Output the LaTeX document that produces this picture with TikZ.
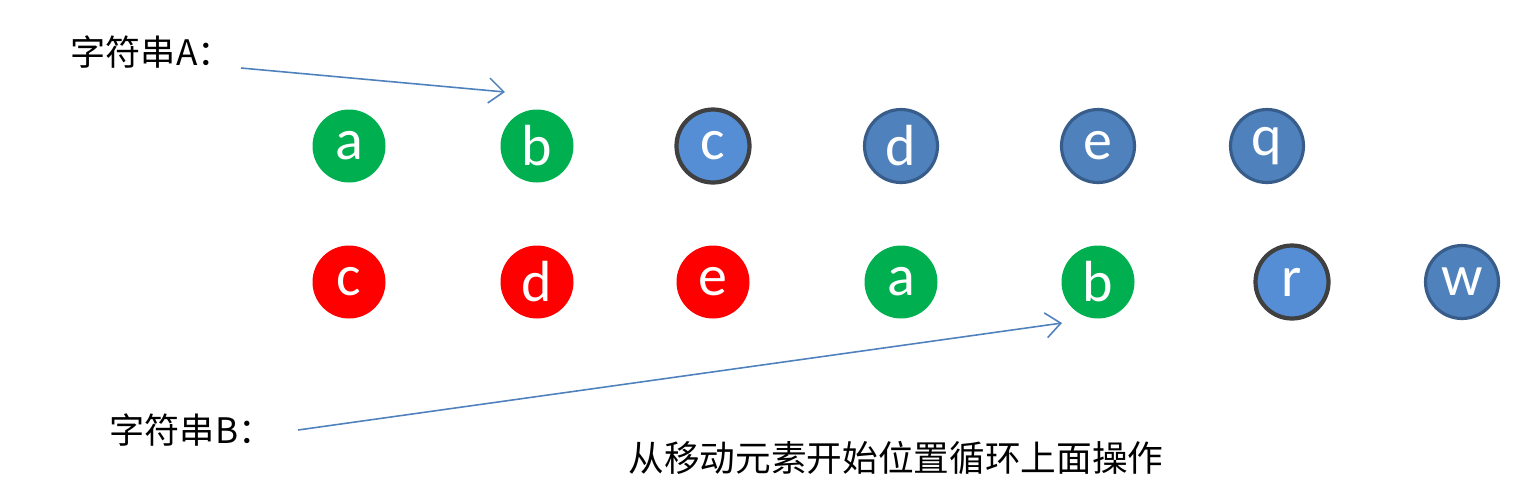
\documentclass[tikz,border=0pt]{standalone}
\usepackage{fontspec}
\setmainfont{Carlito}
\newfontfamily\cjk{Noto Sans CJK SC}
\usetikzlibrary{arrows.meta}
\definecolor{cgreen}{HTML}{00B050}
\definecolor{cred}{HTML}{FF0000}
\definecolor{clight}{HTML}{558ED5}
\definecolor{cblue}{HTML}{4F81BD}
\definecolor{cborder}{HTML}{385D8A}
\definecolor{cgray}{HTML}{404040}

\begin{document}
\begin{tikzpicture}[-{Straight Barb[length=0.3cm,width=0.5cm]},draw=cblue,line width=0.9pt]
    \tikzstyle{letter}=[circle,minimum size=1.46cm,inner sep=0pt,text=white,font=\fontsize{33}{33}\selectfont]
    \tikzstyle{match}=[letter,fill=cgreen];
    \tikzstyle{moved}=[letter,fill=cred];
    \tikzstyle{miss}=[letter,fill=clight,draw=cgray,line width=2.4pt];
    \tikzstyle{rest}=[letter,fill=cblue,draw=cborder,line width=1.8pt];
    \tikzstyle{label}=[anchor=west,font=\cjk\fontsize{20}{20}\selectfont,text=black]

    \useasboundingbox (0,0) rectangle (30.48,-9.86);

    % String A
    \node[match] (A-1) at (6.98,-2.92) {a};
    \node[match] (A-2) at (10.74,-2.92) {b};
    \node[miss] (A-3) at (14.26,-2.92) {c};
    \node[rest] (A-4) at (18.02,-2.92) {d};
    \node[rest] (A-5) at (21.96,-2.92) {e};
    \node[rest] (A-6) at (25.34,-2.92) {q};

    % String B
    \node[moved] (B-1) at (6.98,-5.64) {c};
    \node[moved] (B-2) at (10.74,-5.64) {d};
    \node[moved] (B-3) at (14.26,-5.64) {e};
    \node[match] (B-4) at (18.02,-5.64) {a};
    \node[match] (B-5) at (21.96,-5.64) {b};
    \node[miss] (B-6) at (25.84,-5.64) {r};
    \node[rest] (B-7) at (29.24,-5.64) {w};

    % Labels and pointers
    \node[label] (LA) at (1.28,-1.04) {字符串A：};
    \node[label] (LB) at (2.06,-8.6) {字符串B：};
    \node[font=\cjk\fontsize{20.3}{20.3}\selectfont] (note) at (17.92,-9.16) {从移动元素开始位置循环上面操作};
    \coordinate (PA-s) at (4.82,-1.36);
    \coordinate (PA-e) at (10.10,-1.84);
    \coordinate (PB-s) at (5.96,-8.60);
    \coordinate (PB-e) at (21.24,-6.46);
    \path (PA-s) edge (PA-e);
    \path (PB-s) edge (PB-e);
\end{tikzpicture}
\end{document}
